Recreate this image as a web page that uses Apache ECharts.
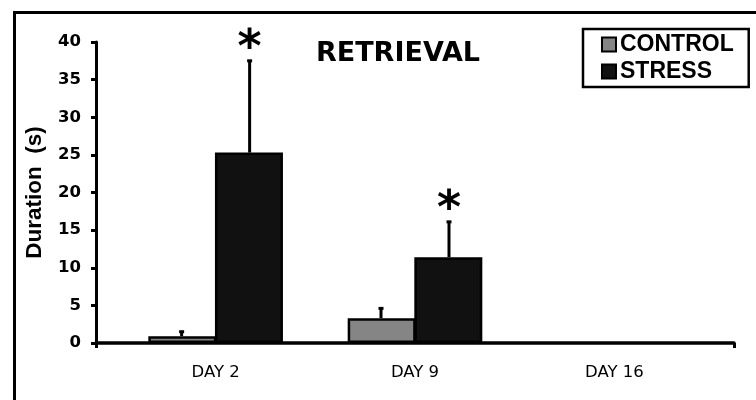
<!DOCTYPE html>
<html>
<head>
<meta charset="utf-8">
<script src="https://cdn.jsdelivr.net/npm/echarts@6/dist/echarts.min.js"></script>
<style>
  html, body { margin: 0; padding: 0; background: #fff; }
  #chart { width: 756px; height: 400px; }
</style>
</head>
<body>
<div id="chart"></div>
<script>
// Freezing duration during retrieval, mean + SEM (upper whisker only)
const days = ['DAY 2', 'DAY 9', 'DAY 16'];
const controlMean = [0.9, 3.3, null];
const controlErr = [0.6, 1.3, null];
const stressMean = [25.3, 11.4, null];
const stressErr = [12.2, 4.7, null];
const stressSig = ['*', '*', ''];
const yTicks = [0, 5, 10, 15, 20, 25, 30, 35, 40];

const BAR_W = 68;
const FONT = 'Liberation Sans, Arial, sans-serif';
const WIDE = '"DejaVu Sans", sans-serif';

// category index i sits at x = i + 1 on a numeric axis so the axis line can run past the outer bars
function barData(vals) {
  return vals.map((v, i) => [i + 1, v]).filter(d => d[1] != null);
}
function errData(means, errs, sig) {
  return means.map((m, i) => [i + 1, m, m == null ? null : m + errs[i], sig ? sig[i] : ''])
    .filter(d => d[1] != null);
}
function errorRenderer(side) {
  return function (params, api) {
    const x = api.value(0);
    const base = api.coord([x, api.value(1)]);
    const top = api.coord([x, api.value(2)]);
    const cx = base[0] + side * BAR_W / 2;
    const children = [
      { type: 'line', shape: { x1: cx, y1: base[1], x2: cx, y2: top[1] },
        style: { stroke: '#000', lineWidth: 3 } },
      { type: 'line', shape: { x1: cx - 2.5, y1: top[1], x2: cx + 2.5, y2: top[1] },
        style: { stroke: '#000', lineWidth: 3 } }
    ];
    const mark = api.value(3);
    if (mark) {
      // the asterisk glyph sits high in its em box; anchor on the baseline and pull it down
      children.push({ type: 'text', x: cx, y: top[1] + 12,
        style: { text: mark, font: 'bold 46px "DejaVu Sans", sans-serif', fill: '#000',
          align: 'center', verticalAlign: 'bottom' } });
    }
    return { type: 'group', children: children };
  };
}

const chart = echarts.init(document.getElementById('chart'), null, { renderer: 'canvas' });
chart.setOption({
  animation: false,
  backgroundColor: '#fff',
  title: {
    text: 'RETRIEVAL',
    left: 393, top: 35, textAlign: 'center',
    textStyle: { fontFamily: 'DejaVu Sans', fontWeight: 'bold', fontSize: 27, color: '#000' }
  },
  legend: {
    orient: 'vertical',
    left: 583, top: 29,
    padding: [4, 15, 4, 18],
    borderColor: '#000', borderWidth: 2.5,
    itemWidth: 14, itemHeight: 14, itemGap: 4,
    icon: 'rect',
    textStyle: { fontFamily: FONT, fontWeight: 'bold', fontSize: 23, color: '#000', padding: [0, 0, 0, -1] },
    data: ['CONTROL', 'STRESS']
  },
  graphic: [{
    type: 'rect', left: 12, top: 10, z: -1,
    shape: { width: 800, height: 420 },
    style: { fill: 'none', stroke: '#000', lineWidth: 3 }
  }],
  grid: { left: 96, right: 22, top: 42, bottom: 57 },
  xAxis: {
    type: 'value', min: 0.4, max: 3.6,
    splitLine: { show: false },
    axisLine: { show: true, onZero: false, lineStyle: { color: '#000', width: 3.5 } },
    axisTick: { show: true, customValues: [0.4, 3.6], length: 5, lineStyle: { color: '#000', width: 3 } },
    axisLabel: {
      customValues: [1, 2, 3],
      formatter: v => days[Math.round(v) - 1] || '',
      margin: 21,
      fontFamily: WIDE, fontSize: 16.5, color: '#000'
    }
  },
  yAxis: {
    type: 'value', min: 0, max: 40, interval: 5,
    name: 'Duration  (s)', nameLocation: 'middle', nameGap: 50, nameRotate: 90,
    nameTextStyle: { fontFamily: FONT, fontWeight: 'bold', fontSize: 22.5, color: '#000' },
    splitLine: { show: false },
    axisLine: { show: true, lineStyle: { color: '#000', width: 3 } },
    axisTick: { show: true, length: 5, lineStyle: { color: '#000', width: 3 } },
    axisLabel: {
      customValues: yTicks,
      margin: 15,
      fontFamily: WIDE, fontWeight: 'bold', fontSize: 16.5, color: '#000'
    }
  },
  series: [
    {
      name: 'CONTROL', type: 'bar', barWidth: BAR_W, barGap: '-2%',
      itemStyle: { color: '#858585', borderColor: '#000', borderWidth: 2.5 },
      data: barData(controlMean)
    },
    {
      name: 'STRESS', type: 'bar', barWidth: BAR_W, barGap: '-2%',
      itemStyle: { color: '#111', borderColor: '#000', borderWidth: 2.5 },
      data: barData(stressMean)
    },
    {
      type: 'custom', renderItem: errorRenderer(-1), z: 3,
      encode: { x: 0, y: [1, 2] },
      data: errData(controlMean, controlErr)
    },
    {
      type: 'custom', renderItem: errorRenderer(1), z: 3,
      encode: { x: 0, y: [1, 2] },
      data: errData(stressMean, stressErr, stressSig)
    }
  ]
});
</script>
</body>
</html>
